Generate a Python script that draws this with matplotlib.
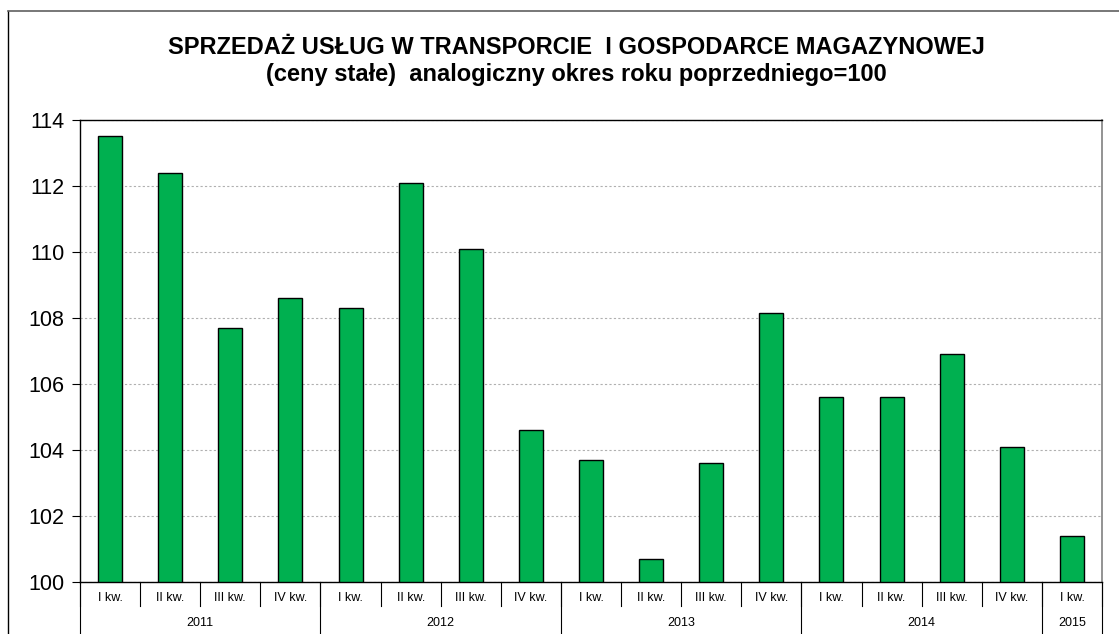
import numpy as np
import matplotlib.pyplot as plt
from matplotlib.lines import Line2D
import matplotlib.transforms as mtransforms

plt.rcParams['font.family'] = ['Liberation Sans', 'DejaVu Sans']

# quarterly sales index, same period of previous year = 100
quarters = ["I kw.", "II kw.", "III kw.", "IV kw.",
            "I kw.", "II kw.", "III kw.", "IV kw.",
            "I kw.", "II kw.", "III kw.", "IV kw.",
            "I kw.", "II kw.", "III kw.", "IV kw.",
            "I kw."]
years = ["2011", "2012", "2013", "2014", "2015"]
year_len = [4, 4, 4, 4, 1]
values = [113.5, 112.4, 107.7, 108.6,
          108.3, 112.1, 110.1, 104.6,
          103.7, 100.7, 103.6, 108.15,
          105.6, 105.6, 106.9, 104.1,
          101.4]

W, H = 1119, 634
fig = plt.figure(figsize=(W / 100, H / 100), dpi=100)
ax = fig.add_axes([80 / W, 1 - 582 / H, (1102 - 80) / W, (582 - 120) / H])

x = np.arange(len(values))
ax.bar(x, np.array(values) - 100, bottom=100, width=0.4,
       color="#00B050", edgecolor="black", linewidth=1, zorder=3)

ax.set_xlim(-0.5, len(values) - 0.5)
ax.set_ylim(100, 114)
ax.set_yticks(np.arange(100, 115, 2))
ax.tick_params(axis="y", labelsize=15.5, length=6, direction="out", pad=5)
ax.yaxis.grid(True, linestyle=(0, (2, 2)), color="#b0b0b0", linewidth=0.8)
ax.set_xticks([])

for s in ["left", "top", "bottom"]:
    ax.spines[s].set_color("black")
    ax.spines[s].set_linewidth(1)
ax.spines["right"].set_color("#808080")
ax.spines["right"].set_linewidth(1.2)

# multi-level category axis
trans = mtransforms.blended_transform_factory(ax.transData, ax.transAxes)
ah = 582 - 120
for i, q in enumerate(quarters):
    ax.text(i, -16 / ah, q, transform=trans, ha="center", va="center", fontsize=9)
for b in range(len(values) + 1):
    ax.add_line(Line2D([b - 0.5, b - 0.5], [0, -24 / ah], transform=trans,
                       color="black", linewidth=0.8, clip_on=False))
start = 0
for y, n in zip(years, year_len):
    ax.text(start + n / 2 - 0.5, -41 / ah, y, transform=trans,
            ha="center", va="center", fontsize=9)
    ax.add_line(Line2D([start - 0.5, start - 0.5], [0, -52 / ah], transform=trans,
                       color="black", linewidth=0.8, clip_on=False))
    start += n
ax.add_line(Line2D([start - 0.5, start - 0.5], [0, -52 / ah], transform=trans,
                   color="black", linewidth=0.8, clip_on=False))

fig.text(576 / W, 1 - 47 / H, "SPRZEDAŻ USŁUG W TRANSPORCIE  I GOSPODARCE MAGAZYNOWEJ",
         ha="center", va="center", fontsize=17, fontweight="bold")
fig.text(576 / W, 1 - 75 / H, "(ceny stałe)  analogiczny okres roku poprzedniego=100",
         ha="center", va="center", fontsize=17, fontweight="bold")

# outer chart frame
fig.add_artist(Line2D([8 / W, 8 / W], [0, 1 - 11 / H], transform=fig.transFigure,
                      color="black", linewidth=1))
fig.add_artist(Line2D([8 / W, 1], [1 - 11 / H, 1 - 11 / H], transform=fig.transFigure,
                      color="#606060", linewidth=1.2))

fig.savefig("out.png", dpi=100)
